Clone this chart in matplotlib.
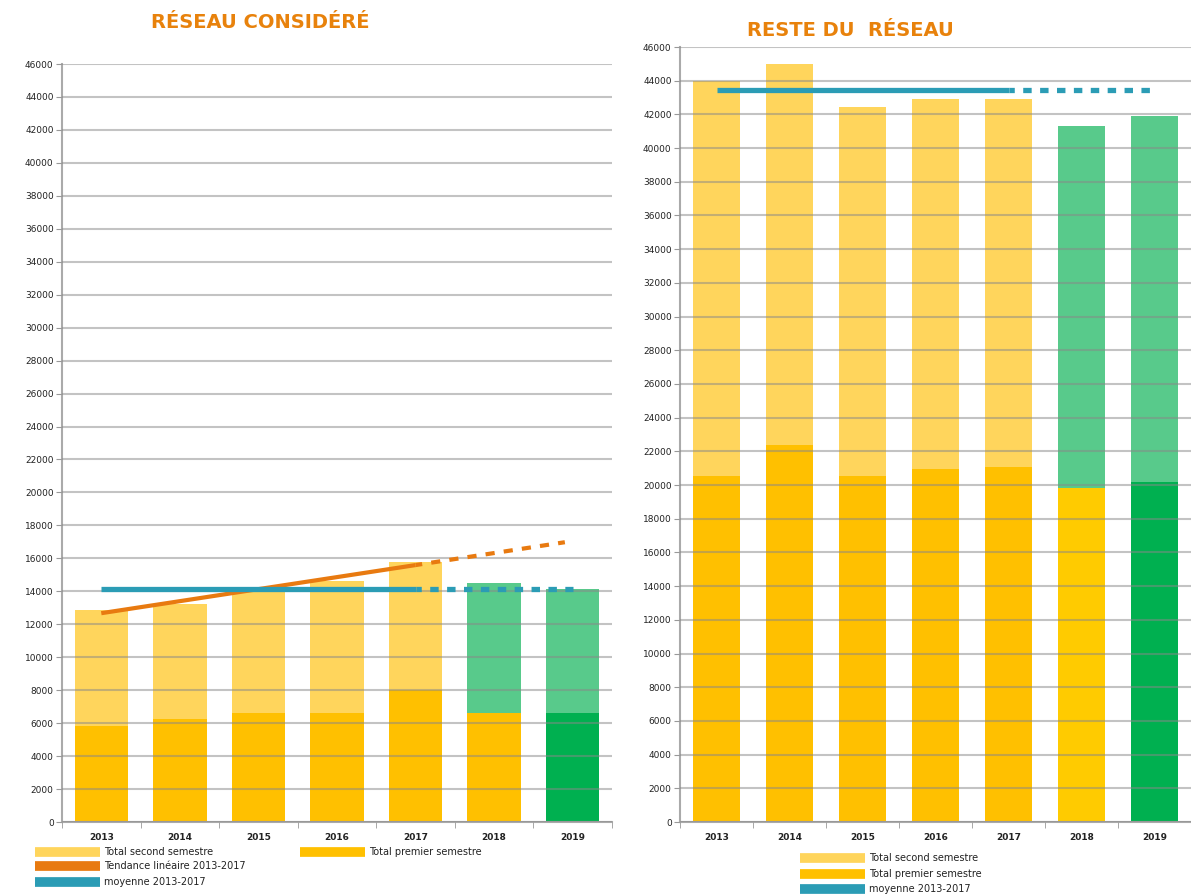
import numpy as np
import matplotlib
matplotlib.use("Agg")
import matplotlib.pyplot as plt
from matplotlib.lines import Line2D

years = ["2013", "2014", "2015", "2016", "2017", "2018", "2019"]

# Left chart: "RÉSEAU CONSIDÉRÉ"
left_first = [5800, 6270, 6620, 6620, 8000, 6620, 6620]
left_total = [12850, 13200, 14200, 14620, 15790, 14500, 14120]

# Right chart: "RESTE DU  RÉSEAU"
right_first = [20550, 22400, 20550, 20950, 21100, 19850, 20200]
right_total = [43960, 44970, 42450, 42900, 42900, 41300, 41900]

yticks = list(range(0, 46001, 2000))

C_LIGHT = "#FFD55C"
C_DARK = "#FFC000"
C_DARK18 = "#FFCB00"
C_GLIGHT = "#58CA8B"
C_GDARK = "#00B050"
C_TEAL = "#2B9CB5"
C_ORANGE = "#E87A10"
C_TITLE = "#E8820C"

fig = plt.figure(figsize=(11.91, 8.96), dpi=100)

def style_axes(ax, xlim):
    ax.set_ylim(0, 46000)
    ax.set_xlim(*xlim)
    ax.set_yticks(yticks)
    ax.set_yticklabels([str(v) for v in yticks], fontsize=6.5, color="#222222")
    ax.set_xticks(range(len(years)))
    ax.set_xticklabels(years, fontsize=6.5, color="#222222", fontweight="bold")
    ax.tick_params(axis="x", length=0, pad=8)
    ax.set_xticks(np.arange(-0.5, len(years), 1.0), minor=True)
    ax.tick_params(axis="x", which="minor", length=4, color="#999999", direction="out")
    ax.tick_params(axis="y", length=4, color="#999999", pad=2)
    for s in ["top", "right"]:
        ax.spines[s].set_visible(False)
    for s in ["left", "bottom"]:
        ax.spines[s].set_color("#AAAAAA")
        ax.spines[s].set_linewidth(1.5)
    ax.yaxis.grid(True, color="#888888", linewidth=1.5, alpha=0.5, zorder=3)
    ax.set_axisbelow(False)
    ax.set_facecolor("none")

# ---------------- Left chart ----------------
axL = fig.add_axes([62/1191, 1-822/896, (612-62)/1191, (822-64)/896])
x = np.arange(len(years))
second_L = [t - f for t, f in zip(left_total, left_first)]
cols_first_L = [C_DARK]*6 + [C_GDARK]
cols_second_L = [C_LIGHT]*5 + [C_GLIGHT]*2
axL.bar(x, left_first, width=0.68, color=cols_first_L, zorder=1)
axL.bar(x, second_L, bottom=left_first, width=0.68, color=cols_second_L, zorder=1)
style_axes(axL, (-0.5, 6.5))

meanL = np.mean(left_total[:5])
axL.plot([0, 4], [meanL, meanL], color=C_TEAL, lw=3.8, solid_capstyle="butt", zorder=5)
axL.plot([4, 6], [meanL, meanL], color=C_TEAL, lw=3.8, linestyle=(0.6, (1.6, 1.6)), zorder=5)

slope, icpt = np.polyfit(np.arange(5), left_total[:5], 1)
xs = np.array([0, 4])
axL.plot(xs, slope*xs + icpt, color=C_ORANGE, lw=3.0, solid_capstyle="butt", zorder=4)
xs2 = np.array([4, 5.9])
axL.plot(xs2, slope*xs2 + icpt, color=C_ORANGE, lw=3.0, linestyle=(0.6, (2.2, 2.2)), zorder=4)

fig.text(260/1191, 1-22/896, "RÉSEAU CONSIDÉRÉ", color=C_TITLE, fontsize=14,
         fontweight="bold", ha="center", va="center")

# ---------------- Right chart ----------------
axR = fig.add_axes([680/1191, 1-822/896, (1191-680)/1191, (822-47)/896])
second_R = [t - f for t, f in zip(right_total, right_first)]
cols_first_R = [C_DARK]*5 + [C_DARK18, C_GDARK]
cols_second_R = [C_LIGHT]*5 + [C_GLIGHT]*2
axR.bar(x, right_first, width=0.65, color=cols_first_R, zorder=1)
axR.bar(x, second_R, bottom=right_first, width=0.65, color=cols_second_R, zorder=1)
style_axes(axR, (-0.5, 6.38))

meanR = np.mean(right_total[:5])
axR.plot([0, 4], [meanR, meanR], color=C_TEAL, lw=3.8, solid_capstyle="butt", zorder=5)
axR.plot([4, 6], [meanR, meanR], color=C_TEAL, lw=3.8, linestyle=(0.6, (1.6, 1.6)), zorder=5)

fig.text(850/1191, 1-30/896, "RESTE DU  RÉSEAU", color=C_TITLE, fontsize=14,
         fontweight="bold", ha="center", va="center")

# ---------------- Legends ----------------
def leg(handle_color, label, xpx, ypx):
    h = Line2D([0], [0], color=handle_color, lw=7, solid_capstyle="butt")
    fig.legend([h], [label], loc="center left", bbox_to_anchor=(xpx/1191, 1-ypx/896),
               frameon=False, fontsize=7, handlelength=6.7, handletextpad=0.4,
               borderpad=0, borderaxespad=0, labelcolor="#222222")

leg(C_LIGHT, "Total second semestre", 35, 852)
leg(C_DARK, "Total premier semestre", 300, 852)
leg(C_ORANGE, "Tendance linéaire 2013-2017", 35, 866)
leg(C_TEAL, "moyenne 2013-2017", 35, 882)

leg(C_LIGHT, "Total second semestre", 800, 858)
leg(C_DARK, "Total premier semestre", 800, 874)
leg(C_TEAL, "moyenne 2013-2017", 800, 889)

fig.savefig("out.png", dpi=100)
